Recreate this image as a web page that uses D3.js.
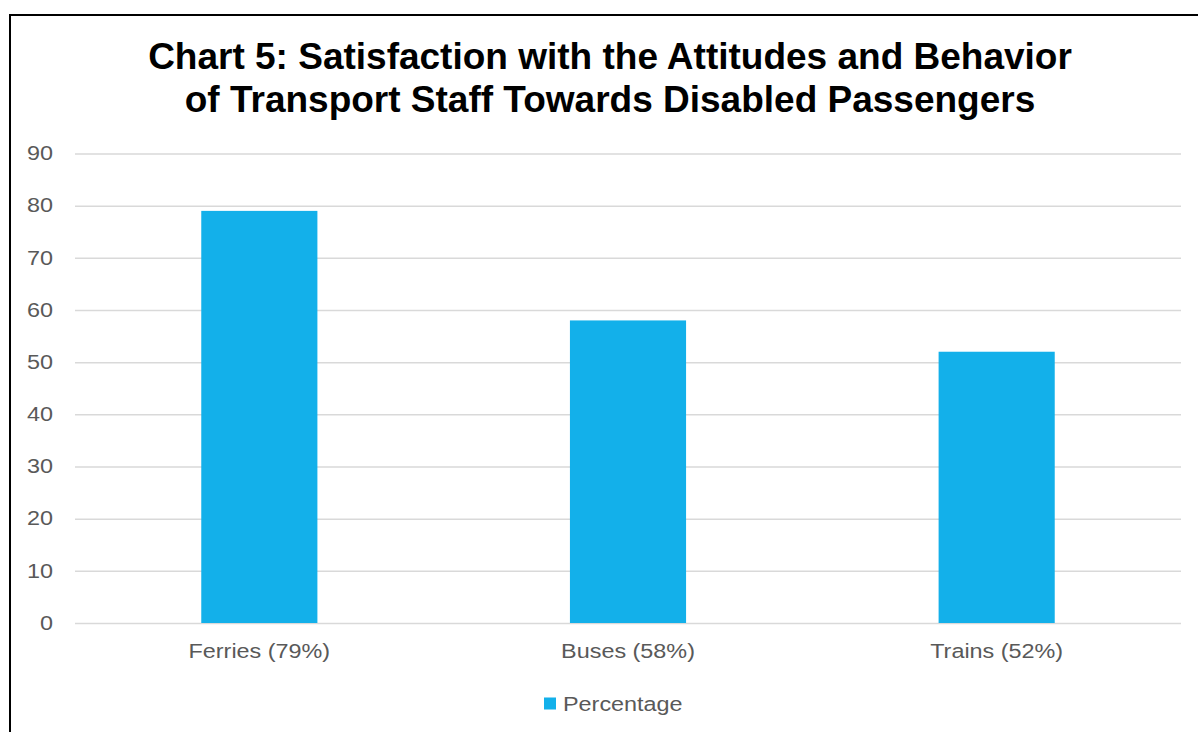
<!DOCTYPE html>
<html>
<head>
<meta charset="utf-8">
<script src="https://cdn.jsdelivr.net/npm/d3@7"></script>
<style>
  html, body { margin: 0; padding: 0; background: #fff; }
  svg { display: block; font-family: "Liberation Sans", Arial, sans-serif; }
</style>
</head>
<body>
<svg id="chart" width="1198" height="732"></svg>
<script>
// Chart data
const categories = ["Ferries (79%)", "Buses (58%)", "Trains (52%)"];
const percentages = [79, 58, 52];
const yTicks = [0, 10, 20, 30, 40, 50, 60, 70, 80, 90];
const seriesName = "Percentage";
const titleLines = [
  "Chart 5: Satisfaction with the Attitudes and Behavior",
  "of Transport Staff Towards Disabled Passengers"
];

const svg = d3.select("#chart");
const W = 1198, H = 732;
const plot = { left: 75, right: 1181, top: 153.5, bottom: 623 };
const barColor = "#13B0EA";
const labelColor = "#595959";
const labelSize = 19.5;
const widen = 1.2; // horizontal stretch of the small labels

// Move a text's x offset into a transform so it can be widened in place
function stretch(sel) {
  sel.each(function () {
    const t = d3.select(this);
    const x = +t.attr("x") || 0;
    t.attr("x", 0).attr("transform", `translate(${x},0) scale(${widen},1)`);
  });
}

// Outer frame of the chart area
svg.append("rect")
  .attr("x", 10).attr("y", 15)
  .attr("width", W + 10).attr("height", H + 10)
  .attr("fill", "#fff").attr("stroke", "#000").attr("stroke-width", 2);

// Title
svg.append("g").selectAll("text").data(titleLines).join("text")
  .attr("x", 610)
  .attr("y", (d, i) => 68.5 + i * 43.5)
  .attr("text-anchor", "middle")
  .attr("font-size", 37)
  .attr("font-weight", "bold")
  .attr("fill", "#000")
  .text(d => d);

const x = d3.scaleBand()
  .domain(categories)
  .range([plot.left, plot.right])
  .paddingInner(0.685)
  .paddingOuter(0.3425);

const y = d3.scaleLinear()
  .domain([0, 90])
  .range([plot.bottom, plot.top]);

// Horizontal gridlines and value labels
const yAxis = d3.axisLeft(y)
  .tickValues(yTicks)
  .tickSize(-(plot.right - plot.left))
  .tickPadding(22)
  .tickFormat(d3.format("d"));

const gy = svg.append("g")
  .attr("transform", `translate(${plot.left},0)`)
  .call(yAxis);
gy.select(".domain").remove();
gy.selectAll(".tick line").attr("stroke", "#D9D9D9").attr("stroke-width", 1.5);
gy.selectAll(".tick text")
  .attr("fill", labelColor)
  .attr("font-size", labelSize)
  .attr("font-family", "Liberation Sans, Arial, sans-serif")
  .call(stretch);

// Bars
svg.append("g").selectAll("rect").data(percentages).join("rect")
  .attr("x", (d, i) => x(categories[i]))
  .attr("y", d => y(d))
  .attr("width", x.bandwidth())
  .attr("height", d => y(0) - y(d))
  .attr("fill", barColor);

// Category axis labels
const xAxis = d3.axisBottom(x).tickSize(0).tickPadding(21);
const gx = svg.append("g")
  .attr("transform", `translate(0,${plot.bottom})`)
  .call(xAxis);
gx.select(".domain").remove();
gx.selectAll(".tick text")
  .attr("fill", labelColor)
  .attr("font-size", labelSize)
  .attr("font-family", "Liberation Sans, Arial, sans-serif")
  .call(stretch);

// Legend
const legend = svg.append("g").attr("transform", "translate(544,697.5)");
legend.append("rect")
  .attr("width", 12).attr("height", 12)
  .attr("fill", barColor);
legend.append("text")
  .attr("x", 19).attr("y", 13.5)
  .attr("font-size", labelSize)
  .attr("fill", labelColor)
  .text(seriesName)
  .call(stretch);
</script>
</body>
</html>
